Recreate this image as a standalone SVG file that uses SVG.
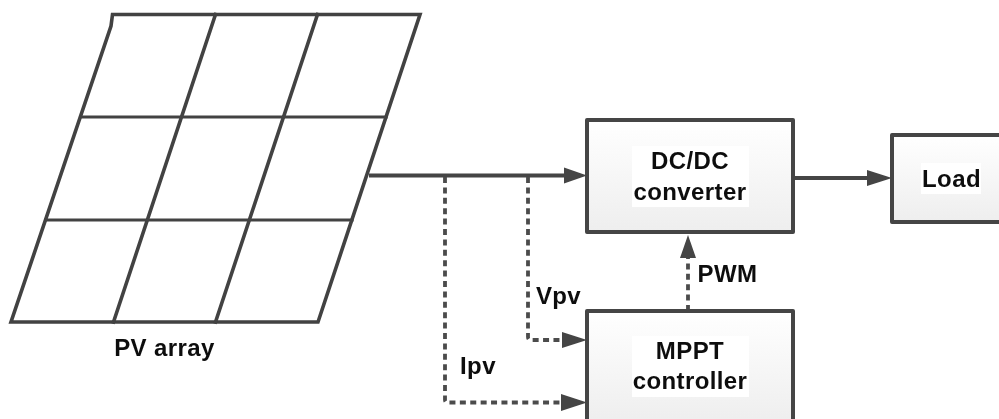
<svg xmlns="http://www.w3.org/2000/svg" width="999" height="419" viewBox="0 0 999 419">
<style>
.grid{fill:none;stroke:#424242;stroke-width:3.6;stroke-linecap:square;stroke-linejoin:miter}
.thin{stroke-width:3.2}
.box{fill:url(#boxfill);stroke:#444;stroke-width:4;stroke-linejoin:round}
.wire{fill:none;stroke:#444;stroke-width:3.8}
.dash{fill:none;stroke:#4c4c4c;stroke-width:3.8;stroke-dasharray:6 4.4;stroke-linejoin:round}
.head{fill:#444}
.lab{font-family:"Liberation Sans",Arial,sans-serif;font-weight:bold;font-size:24px;letter-spacing:0.4px;fill:#111;text-anchor:middle}
.bg{fill:#fff}
</style>
<defs>
<linearGradient id="boxfill" x1="0" y1="0" x2="0" y2="1">
<stop offset="0" stop-color="#fff"/><stop offset="1" stop-color="#eee"/>
</linearGradient>
<filter id="soft" x="-5%" y="-5%" width="110%" height="110%"><feGaussianBlur stdDeviation="0.55"/></filter>
</defs>
<g filter="url(#soft)">
<g id="pv-array">
<path class="grid" d="M11 322H318L420 14.500H112.500L111 26L11 322Z"/>
<path class="grid" d="M215.500 14.500L113.500 322M317.500 14.500L215.500 322"/>
<path class="grid thin" d="M81 117H386M46 220H352"/>
<text class="lab" x="164.500" y="356">PV array</text>
</g>
<g id="connectors">
<path class="wire" d="M369 175.500H566"/>
<path class="head" d="M564 167.500L587 175.500L564 183.500Z"/>
<path class="wire" d="M793 178H870"/>
<path class="head" d="M867 170L892 178L867 186Z"/>
<path class="dash" d="M445 177V400Q445 402.500 448 402.500H562"/>
<path class="head" d="M561 394L587 402.500L561 411Z"/>
<path class="dash" d="M528 177V337Q528 340 531 340H564"/>
<path class="head" d="M562 332L587 340L562 348Z"/>
<path class="dash" d="M688 311V256"/>
<path class="head" d="M680 258L688 235L696 258Z"/>
</g>
<g id="dcdc">
<rect class="box" x="587" y="120" width="206" height="112"/>
<rect class="bg" x="632" y="146" width="117" height="61"/>
<text class="lab" x="690" y="169">DC/DC</text>
<text class="lab" x="690" y="200">converter</text>
</g>
<g id="mppt">
<rect class="box" x="587" y="311" width="206" height="112"/>
<rect class="bg" x="632" y="336" width="117" height="61"/>
<text class="lab" x="690" y="359">MPPT</text>
<text class="lab" x="690" y="389">controller</text>
</g>
<g id="load">
<rect class="box" x="892" y="135" width="120" height="87"/>
<rect class="bg" x="921" y="163" width="60" height="31"/>
<text class="lab" x="951.500" y="187">Load</text>
</g>
<text class="lab" x="558.500" y="304">Vpv</text>
<text class="lab" x="478" y="374">Ipv</text>
<text class="lab" x="727.500" y="282">PWM</text>
</g>
</svg>
